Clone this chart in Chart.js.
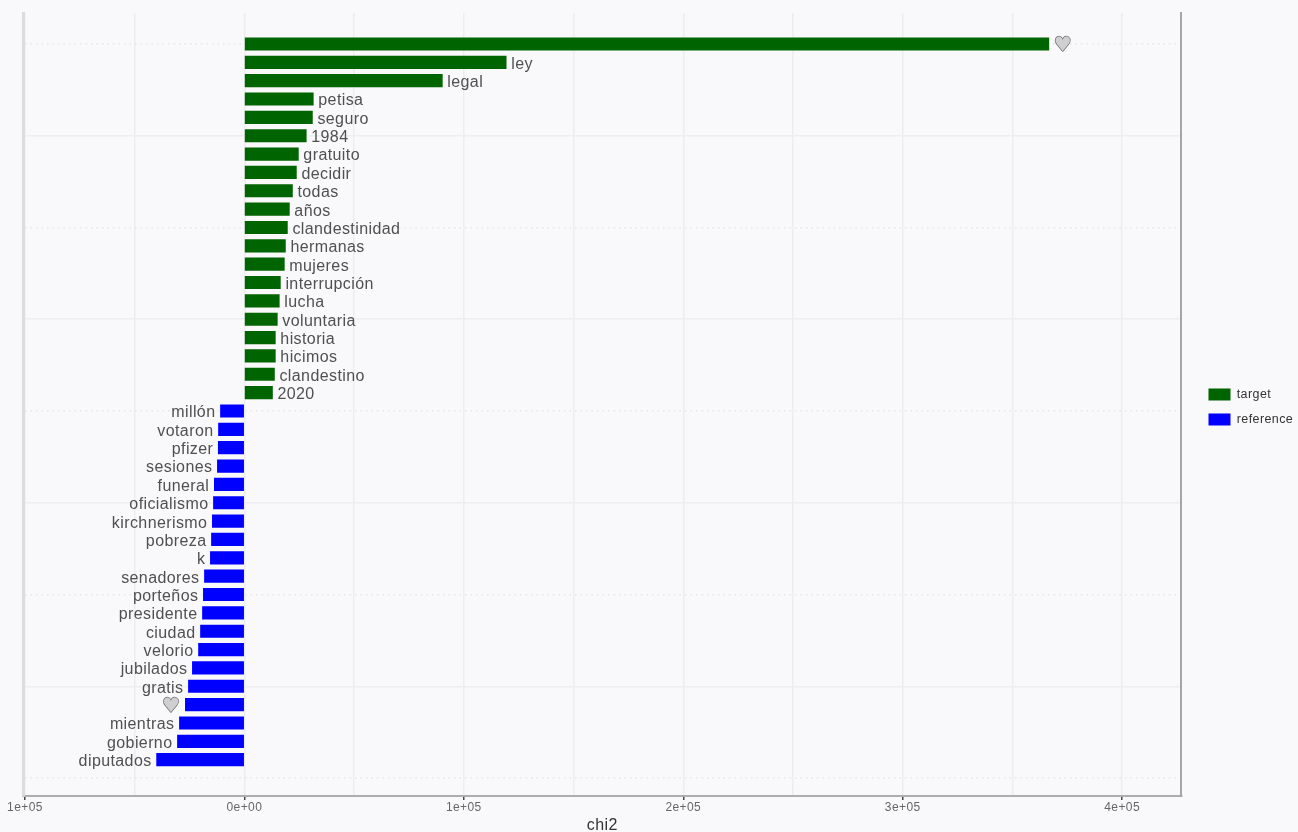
<!DOCTYPE html>
<html><head><meta charset="utf-8">
<style>html,body{margin:0;padding:0;background:#f9f8fb;overflow:hidden}canvas{display:block;filter:blur(0.65px)}</style>
<script src="https://cdn.jsdelivr.net/npm/chart.js@4"></script></head>
<body><canvas id="c" width="1298" height="832"></canvas>
<script>
const targetWords = ["♥","ley","legal","petisa","seguro","1984","gratuito","decidir","todas","años","clandestinidad","hermanas","mujeres","interrupción","lucha","voluntaria","historia","hicimos","clandestino","2020"];
const targetValues = [366600,119300,90200,31400,31000,28200,24600,23700,21900,20500,19600,18700,18200,16400,15900,15000,14100,14100,13700,12800];
const referenceWords = ["millón","votaron","pfizer","sesiones","funeral","oficialismo","kirchnerismo","pobreza","k","senadores","porteños","presidente","ciudad","velorio","jubilados","gratis","♥","mientras","gobierno","diputados"];
const referenceValues = [-10900,-11800,-11900,-12300,-13700,-14100,-14600,-15000,-15500,-18200,-18700,-19100,-20000,-20900,-23700,-25500,-26900,-29600,-30500,-40000];
const xTicks = [-100000,-50000,0,50000,100000,150000,200000,250000,300000,350000,400000];
const yBreaks = [1,6,11,16,21,26,31,36,41];
const FONT = '"Liberation Sans", Arial, sans-serif';
const LABEL_COLOR = '#505050';

const toPoints = (vals, offset) => vals.map((v, i) => ({x: v, y: i + 1 + offset}));

const textSpacing = {
  id: 'textSpacing',
  beforeDraw(chart) { chart.ctx.letterSpacing = '0.4px'; }
};

const wordLabels = {
  id: 'wordLabels',
  afterDatasetsDraw(chart) {
    const {ctx, scales: {x, y}} = chart;
    ctx.save();
    ctx.textBaseline = 'middle';
    const draw = (words, vals, offset, side) => {
      words.forEach((w, i) => {
        const px = x.getPixelForValue(vals[i]);
        const py = y.getPixelForValue(i + 1 + offset);
        ctx.textAlign = side > 0 ? 'left' : 'right';
        const tx = px + side * 5;
        ctx.font = '16px ' + FONT;
        if (w === '♥') {
          ctx.font = '20px "DejaVu Sans", sans-serif';
          ctx.fillStyle = '#cfcfd2';
          ctx.strokeStyle = '#6e6e6e';
          ctx.lineWidth = 1.4;
          ctx.strokeText(w, tx, py + 2);
          ctx.fillText(w, tx, py + 2);
        } else {
          ctx.fillStyle = LABEL_COLOR;
          ctx.fillText(w, tx, py + 2);
        }
      });
    };
    draw(targetWords, targetValues, 0, 1);
    draw(referenceWords, referenceValues, targetWords.length, -1);
    ctx.restore();
  }
};

const legendPlace = {
  id: 'legendPlace',
  afterLayout(chart) {
    const l = chart.legend;
    const dx = 1196 - l.left;
    l.left += dx; l.right += dx;
    const dy = 375.5 - (l.top + (l.bottom - l.top - l.legendHitBoxes.length * 25 - 13) / 2);
    l.top += dy; l.bottom += dy;
  }
};

new Chart(document.getElementById('c'), {
  type: 'bar',
  data: {
    datasets: [
      {label: 'target', data: toPoints(targetValues, 0), backgroundColor: '#006400', borderWidth: 0},
      {label: 'reference', data: toPoints(referenceValues, targetWords.length), backgroundColor: '#0000ff', borderWidth: 0}
    ]
  },
  plugins: [textSpacing, wordLabels, legendPlace],
  options: {
    indexAxis: 'y',
    responsive: false,
    animation: false,
    layout: {padding: {left: 23, top: 13, right: 13, bottom: 0}},
    datasets: {bar: {grouped: false, barThickness: 12.5}},
    plugins: {
      tooltip: {enabled: false},
      legend: {
        position: 'right',
        onClick: null,
        labels: {boxWidth: 22, boxHeight: 12, padding: 12.5, color: '#333333', font: {family: FONT, size: 12.5}}
      }
    },
    scales: {
      x: {
        type: 'linear', position: 'bottom', min: -100890, max: 427030,
        afterBuildTicks(s) { s.ticks = xTicks.map(v => ({value: v})); },
        afterFit(s) { s.height = 36; },
        grid: {
          color: '#ededf0', lineWidth: 1.5,
          tickLength: 4,
          tickColor: c => (c.tick && c.tick.value % 100000 === 0) ? '#444444' : 'rgba(0,0,0,0)'
        },
        border: {color: '#adadad', width: 2},
        ticks: {
          autoSkip: false, maxRotation: 0, padding: 0, color: '#666666',
          font: {family: FONT, size: 12},
          callback(v) {
            if (v % 100000 !== 0) return '';
            const a = Math.abs(v);
            return a === 0 ? '0e+00' : (a / 100000) + 'e+05';
          }
        },
        title: {display: true, text: 'chi2', color: '#333333', font: {family: FONT, size: 16}, padding: {top: 0, bottom: -3}}
      },
      y: {
        type: 'linear', position: 'left', reverse: true, min: -0.688, max: 41.98, offset: false,
        afterBuildTicks(s) { s.ticks = yBreaks.map(v => ({value: v})); },
        afterFit(s) { s.width = 0; },
        ticks: {display: false},
        grid: {offset: false, color: c => ((c.tick && (c.tick.value - 1) % 10 === 0) ? '#e6e6e9' : '#eeeef1'), lineWidth: 1.5, drawTicks: false},
        border: {color: '#dcdcde', width: 3, dash: c => ((c.tick && (c.tick.value - 1) % 10 === 0) ? [1.5, 4] : [])}
      },
      yRight: {
        type: 'linear', axis: 'y', position: 'right', reverse: true, min: -0.688, max: 41.98,
        afterFit(s) { s.width = 0; },
        ticks: {display: false},
        grid: {display: false, drawTicks: false},
        border: {color: '#a6a6a6', width: 2}
      }
    }
  }
});
</script></body></html>
